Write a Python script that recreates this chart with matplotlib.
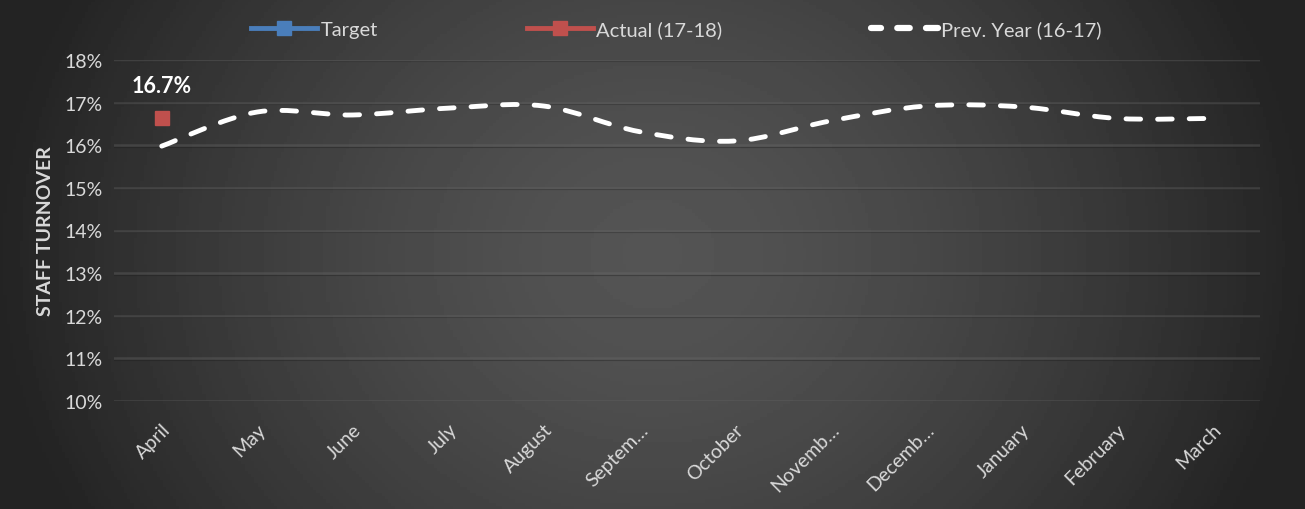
import numpy as np
import matplotlib
matplotlib.use("Agg")
import matplotlib.pyplot as plt
from matplotlib.path import Path
from matplotlib.patches import PathPatch
from matplotlib.lines import Line2D

plt.rcParams["font.family"] = ["Lato", "DejaVu Sans"]

months = ["April", "May", "June", "July", "August", "Septem…", "October",
          "Novemb…", "Decemb…", "January", "February", "March"]
prev_year = [15.98, 16.78, 16.71, 16.87, 16.92, 16.32, 16.10, 16.57, 16.92, 16.90, 16.63, 16.63]
actual = [16.65]
actual_label = "16.7%"
yticks = list(range(10, 19))

TXT = "#d9d9d9"

fig = plt.figure(figsize=(13.05, 5.10), dpi=100)

# background gradient, darker at the edges
bg = fig.add_axes([0, 0, 1, 1])
gx, gy = np.meshgrid(np.linspace(-1, 1, 400), np.linspace(-1, 1, 160))
r = np.sqrt(gx ** 2 + (gy * 0.45) ** 2)
shade = 0.33 - 0.19 * np.clip(r, 0, 1) ** 1.5
bg.imshow(shade, cmap="gray", vmin=0, vmax=1, aspect="auto", extent=[0, 1, 0, 1])
bg.set_axis_off()

ax = fig.add_axes([114 / 1305, 1 - 402 / 510, (1260 - 114) / 1305, (402 - 61) / 510])
ax.set_facecolor("none")
x = np.arange(len(months))

# gridlines
for v in yticks:
    ax.axhline(v, color="#6a6a6a", lw=1.8, alpha=0.35, zorder=1)
    ax.axhline(v - 0.035, color="#1a1a1a", lw=0.8, alpha=0.35, zorder=1)

# smoothed prev-year line (Catmull-Rom as bezier path)
pts = np.column_stack([x, prev_year])
verts, codes = [pts[0]], [Path.MOVETO]
for i in range(len(pts) - 1):
    p0 = pts[i - 1] if i > 0 else pts[i]
    p1, p2 = pts[i], pts[i + 1]
    p3 = pts[i + 2] if i + 2 < len(pts) else pts[i + 1]
    c1 = p1 + (p2 - p0) / 6
    c2 = p2 - (p3 - p1) / 6
    verts += [c1, c2, p2]
    codes += [Path.CURVE4] * 3
ax.add_patch(PathPatch(Path(verts, codes), fill=False, ec="white", lw=3.5,
                       ls=(0, (3, 3.5)), capstyle="round", zorder=3))

ax.plot(x[:len(actual)], actual, ls="none", marker="s", ms=10, color="#c0504d", zorder=4)
ax.text(x[0], actual[0] + 0.75, actual_label, ha="center", va="center",
        color="white", fontsize=15.5, fontweight="bold")

ax.set_xlim(-0.5, len(months) - 0.5)
ax.set_ylim(10, 18)
ax.set_yticks(yticks)
ax.set_yticklabels([f"{v}%" for v in yticks], color=TXT, fontsize=14)
ax.set_xticks(x)
ax.set_xticklabels(months, rotation=45, ha="right", rotation_mode="anchor",
                   color=TXT, fontsize=14)
ax.tick_params(length=0, pad=8)
ax.tick_params(axis="x", pad=14)
for s in ax.spines.values():
    s.set_visible(False)
ax.set_ylabel("STAFF TURNOVER", color=TXT, fontsize=14, fontweight="bold", labelpad=8)

handles = [
    Line2D([], [], color="#4a7ebb", lw=3.5, marker="s", ms=10),
    Line2D([], [], color="#c0504d", lw=3.5, marker="s", ms=10),
    Line2D([], [], color="white", lw=4.5, ls=(0.4, (2, 2.6)),
           dash_capstyle="round"),
]
fig.legend(handles, ["Target", "Actual (17-18)", "Prev. Year (16-17)"],
           loc="center", bbox_to_anchor=(0.518, 1 - 30 / 510), ncol=3, frameon=False,
           fontsize=14.5, labelcolor=TXT, handlelength=3.3, handletextpad=0.15,
           columnspacing=7.4)

fig.savefig("out.png", dpi=100)
